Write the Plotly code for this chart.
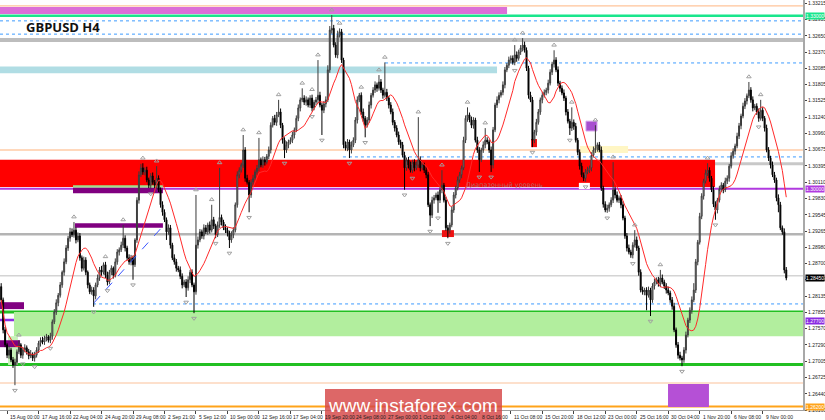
import plotly.graph_objects as go
import pandas as pd

# ---------------- data (prices in pips: price * 10000) ----------------
first_open_pips = 12830
close_pips = [
    12807,12755,12729,12711,12720,12703,12694,12699,12717,12729,12711,12720,12724,12717,12710,12713,12706,12711,12720,12732,
    12737,12734,12741,12743,12737,12744,12769,12786,12802,12815,12833,12855,12873,12897,12914,12925,12920,12928,12911,12918,
    12880,12862,12876,12855,12833,12821,12824,12814,12833,12845,12859,12855,12868,12850,12838,12855,12862,12850,12873,12890,
    12894,12902,12914,12897,12880,12873,12880,12868,12911,12980,13024,13036,13029,13032,13015,13006,13022,13011,13006,13018,
    12998,12972,12959,12946,12925,12932,12902,12880,12873,12862,12859,12848,12833,12838,12828,12842,12855,12833,12821,12902,
    12911,12925,12918,12932,12925,12937,12928,12946,12935,12920,12937,12950,12942,12932,12928,12923,12911,12920,12928,12972,
    13024,13032,13041,13067,13018,13011,12989,13011,13018,13029,13036,13050,13041,13050,13046,13056,13067,13110,13122,13115,
    13128,13133,13110,13084,13067,13076,13081,13084,13093,13102,13122,13140,13154,13157,13150,13154,13145,13157,13140,13150,
    13154,13162,13145,13136,13147,13154,13206,13275,13278,13249,13232,13266,13272,13223,13076,13070,13081,13067,13076,13084,
    13119,13154,13162,13133,13122,13110,13119,13145,13162,13171,13180,13174,13185,13171,13162,13167,13157,13145,13133,13115,
    13105,13093,13081,13076,13058,13036,13050,13041,13032,13046,13036,13041,13050,13036,13041,13032,13024,12972,12954,12980,
    12984,12989,12980,12998,13006,12980,12932,12928,12937,12963,12989,13001,13015,13024,13036,13084,13122,13128,13119,13110,
    13119,13084,13067,13050,13067,13076,13084,13081,13067,13041,13102,13145,13154,13162,13167,13180,13206,13214,13223,13226,
    13219,13232,13226,13237,13244,13249,13240,13209,13162,13154,13084,13098,13115,13133,13154,13162,13167,13171,13183,13202,
    13216,13223,13206,13183,13174,13166,13157,13133,13117,13105,13115,13108,13084,13063,13039,13024,13018,13029,13032,13036,
    13058,13067,13070,13076,13067,13001,12973,12963,12966,12972,12980,12998,12989,12980,12984,12972,12949,12918,12897,12890,
    12885,12902,12911,12897,12855,12824,12821,12824,12815,12824,12807,12831,12838,12842,12835,12845,12838,12831,12824,12819,
    12807,12796,12755,12729,12711,12706,12703,12720,12746,12772,12789,12807,12824,12873,12907,12952,12987,13013,13027,13032,
    13018,12998,12973,12963,12980,12999,13006,12998,13013,13018,13039,13057,13065,13074,13091,13109,13126,13143,13152,13161,
    13171,13154,13140,13143,13133,13122,13136,13122,13105,13067,13053,13041,13024,13015,12984,12972,12932,12925,12859,12845,
]
upper_wick = [
    6,4,5,3,7,4,5,6,4,8,3,5,6,4,5,7,3,6,5,4,
    5,6,4,5,3,6,4,5,6,4,5,3,6,5,4,7,6,14,5,6,
    5,4,6,5,3,4,6,5,4,6,5,7,4,5,6,4,5,3,6,5,
    4,6,23,5,4,6,5,4,3,5,6,7,8,5,6,4,5,6,4,21,
    5,4,6,5,4,6,5,4,6,5,4,6,5,4,5,6,4,5,4,87,
    6,5,4,6,5,4,6,26,5,4,6,86,5,4,6,5,4,6,5,4,
    6,5,4,26,5,6,4,5,6,4,5,38,4,6,5,4,6,5,4,6,
    5,21,6,4,5,6,4,5,6,4,5,6,4,17,5,6,4,5,6,4,
    5,61,6,4,5,6,8,7,23,6,5,8,6,5,4,6,5,4,6,5,
    5,6,4,5,6,4,5,6,4,5,6,4,12,5,4,52,6,4,5,6,
    4,5,6,4,5,6,4,5,6,4,5,6,74,6,5,4,6,5,4,6,
    5,4,6,5,26,4,6,5,4,6,5,4,6,5,4,6,5,13,4,6,
    5,4,6,5,4,6,21,5,4,6,5,4,6,5,4,6,5,4,6,5,
    5,17,6,4,5,12,6,5,4,6,5,4,6,5,4,6,5,4,6,5,
    4,17,5,6,4,5,6,4,5,4,26,5,6,4,5,6,4,5,6,4,
    5,6,40,4,5,6,4,5,6,4,5,48,5,6,4,5,6,4,5,6,
    4,5,17,6,4,5,6,4,5,6,4,5,6,4,5,14,6,4,5,6,
    4,5,6,4,5,6,4,5,6,4,5,6,12,5,4,6,5,4,6,12,
    5,4,6,5,4,6,5,4,6,5,4,6,5,4,6,5,4,6,5,4,
    14,5,6,4,5,6,18,5,4,6,5,4,6,5,4,6,5,4,6,5,
]
lower_wick = [
    5,6,4,5,6,4,5,35,6,4,5,6,4,5,6,4,5,6,4,5,
    6,4,5,6,4,5,6,4,5,6,4,5,6,4,5,6,4,5,6,4,
    5,6,4,5,6,4,5,19,6,4,5,6,4,5,6,4,5,6,4,5,
    6,4,5,6,4,5,6,26,4,5,6,4,5,6,4,5,6,4,5,6,
    4,5,6,4,14,5,6,4,5,6,4,5,6,4,16,5,6,4,37,5,
    6,4,5,6,4,5,6,4,5,6,4,5,6,4,5,6,14,5,6,4,
    5,6,4,5,6,4,30,5,6,4,5,6,4,5,6,4,5,6,4,5,
    6,4,5,6,14,5,6,4,5,6,4,5,6,4,5,6,4,5,6,4,
    5,6,4,43,5,6,4,5,6,4,5,6,4,5,6,4,5,14,6,4,
    5,6,4,5,6,21,4,5,6,4,5,6,4,5,6,4,5,6,4,5,
    6,4,5,6,4,38,5,6,4,5,6,4,5,6,4,5,6,4,19,5,
    6,4,22,5,6,4,5,14,6,4,5,6,4,5,6,4,5,6,4,5,
    6,4,5,21,4,5,6,4,5,12,6,4,5,6,4,5,6,4,5,6,
    4,5,6,4,5,6,4,5,6,4,12,5,6,4,5,6,4,5,6,4,
    5,6,4,5,6,4,5,6,4,12,5,6,4,5,6,4,5,6,4,5,
    6,4,5,6,4,5,6,4,5,6,4,5,6,4,5,6,4,5,6,4,
    5,6,4,5,6,4,5,6,26,4,28,5,6,4,5,6,4,5,6,4,
    5,6,4,5,6,4,11,5,6,4,5,6,4,5,6,4,5,6,4,5,
    6,4,5,17,6,4,5,6,4,5,6,4,5,6,4,5,6,4,5,6,
    4,5,6,4,5,6,4,5,6,4,5,6,4,5,6,13,4,5,6,4,
]

x_tick_text = ["15 Aug 00:00", "17 Aug 16:00", "22 Aug 04:00", "24 Aug 20:00", "29 Aug 08:00",
               "2 Sep 21:00", "5 Sep 12:00", "10 Sep 00:00", "12 Sep 16:00", "17 Sep 04:00",
               "19 Sep 20:00", "24 Sep 08:00", "27 Sep 00:00", "1 Oct 12:00", "4 Oct 04:00",
               "8 Oct 16:00", "11 Oct 08:00", "15 Oct 20:00", "18 Oct 12:00", "23 Oct 00:00",
               "25 Oct 16:00", "30 Oct 04:00", "1 Nov 20:00", "6 Nov 08:00", "9 Nov 00:00"]
y_tick_text = ["1.33215", "1.32935", "1.32650", "1.32370", "1.32085", "1.31805", "1.31525",
               "1.31240", "1.30960", "1.30675", "1.30395", "1.30110", "1.29830", "1.29545",
               "1.29265", "1.28980", "1.28700", "1.28420", "1.28135", "1.27855", "1.27570",
               "1.27290", "1.27005", "1.26725", "1.26440", "1.26160"]

# key levels (prices)
level_prices = [1.3317, 1.3300, 1.3291, 1.3268, 1.3258, 1.3067, 1.3043, 1.3000, 1.2921, 1.2849,
                1.2786, 1.2772, 1.2695, 1.2663, 1.2622]
partial_dotted_levels = [1.3218, 1.3055, 1.2800]
zone_prices = {  # (low, high)
    "orchid": (1.3303, 1.3315), "lightblue": (1.3200, 1.3212), "red": (1.3003, 1.3050),
    "yellow": (1.3062, 1.3074), "green": (1.2744, 1.2786), "green_small": (1.2694, 1.2744),
    "violet_box": (1.2621, 1.2661), "violet_small": (1.3100, 1.3117), "red_small": (1.3072, 1.3086),
    "red_mark": (1.2916, 1.2928), "purple1": (1.2992, 1.3002), "green_strip": (1.3002, 1.3006),
    "purple2": (1.2932, 1.2940), "purple3": (1.2791, 1.2803), "purple4": (1.2725, 1.2737),
    "white_box": (1.2999, 1.3010),
}
trend_prices = [1.2802, 1.2933]
range_label = "Диапазонный уровень"

# ---------------- build ----------------
n = len(close_pips)
opens_p = [first_open_pips] + close_pips[:-1]
high_p = [max(o, c) + u for o, c, u in zip(opens_p, close_pips, upper_wick)]
low_p = [min(o, c) - l for o, c, l in zip(opens_p, close_pips, lower_wick)]
close = [v / 10000 for v in close_pips]
opens = [v / 10000 for v in opens_p]
high = [v / 10000 for v in high_p]
low = [v / 10000 for v in low_p]
xs = list(range(n))
ma = pd.Series(close).rolling(12, min_periods=1).mean().tolist()

# Bill Williams fractals (indicator computed from the highs / lows)
fr_up_x, fr_up_y, fr_dn_x, fr_dn_y = [], [], [], []
for i in range(2, n - 2):
    if high[i] > max(high[i - 2], high[i - 1], high[i + 1], high[i + 2]):
        fr_up_x.append(i)
        fr_up_y.append(high[i] + 0.0009)
    if low[i] < min(low[i - 2], low[i - 1], low[i + 1], low[i + 2]):
        fr_dn_x.append(i)
        fr_dn_y.append(low[i] - 0.0009)

fig = go.Figure()
fig.add_trace(go.Candlestick(
    x=xs, open=opens, high=high, low=low, close=close,
    increasing=dict(line=dict(color="#3a3a3a", width=1), fillcolor="#c8c8c8"),
    decreasing=dict(line=dict(color="#000000", width=1), fillcolor="#000000"),
    whiskerwidth=0, hoverinfo="skip", showlegend=False))
fig.add_trace(go.Scatter(x=xs, y=ma, mode="lines", line=dict(color="#ff2a2a", width=1),
                         hoverinfo="skip", showlegend=False))
fig.add_trace(go.Scatter(x=[47.2, 81.7], y=trend_prices, mode="lines",
                         line=dict(color="#3a55ff", width=1, dash="dash"),
                         hoverinfo="skip", showlegend=False))
fig.add_trace(go.Scatter(x=fr_up_x, y=fr_up_y, mode="markers",
                         marker=dict(symbol="triangle-up-open", size=4, color="#a0a0a0",
                                     line=dict(width=1, color="#a0a0a0")),
                         hoverinfo="skip", showlegend=False))
fig.add_trace(go.Scatter(x=fr_dn_x, y=fr_dn_y, mode="markers",
                         marker=dict(symbol="triangle-down-open", size=4, color="#a0a0a0",
                                     line=dict(width=1, color="#a0a0a0")),
                         hoverinfo="skip", showlegend=False))

XL, XR = -0.6, 407.5
shapes = []

def zone(key, x0, x1, color, line=None):
    lo, hi = zone_prices[key]
    shapes.append(dict(type="rect", xref="x", yref="y", x0=x0, x1=x1, y0=lo, y1=hi,
                       fillcolor=color, line=line or dict(width=0), layer="below"))

zone("orchid", XL, 257.1, "#dc6fd8")
zone("lightblue", XL, 252.0, "#b0dde4")
zone("red", XL, 362.8, "#ff0000")
zone("yellow", 294.2, 318.6, "#fff6c4")
zone("green", 6.5, XR, "#b2ee9e")
zone("green_small", 3.5, 8.5, "#c8f2b8")
zone("violet_box", 338.9, 359.7, "#b550d6")
zone("violet_small", 297.2, 302.8, "#a84fd0", dict(color="#d6a0ec", width=1))
zone("red_small", 269.3, 272.3, "#ee1111")
zone("red_mark", 224.0, 230.1, "#ee1111")
zone("purple1", 36.5, 82.2, "#800080")
zone("green_strip", 36.5, 82.2, "#9fe08a")
zone("purple2", 37.5, 82.2, "#800080")
zone("purple3", XL, 11.6, "#800080")
zone("purple4", XL, 9.6, "#800080")
zone("white_box", 293.6, 299.2, "#ffffff")

level_styles = [("#ffc49a", 1.2, "solid"), ("#19e68c", 2.5, "solid"), ("#3d9bff", 1, "dot"),
                ("#3d9bff", 1, "dot"), ("#bdbdbd", 4, "solid"), ("#ffb27a", 1.2, "solid"),
                ("#c8c8c8", 3, "solid"), ("#b03adf", 2, "solid"), ("#b4b4b4", 2.5, "solid"),
                ("#d4d4d4", 1.5, "solid"), ("#22c022", 3, "solid"), ("#8a2be2", 2.5, "solid"),
                ("#22c022", 3, "solid"), ("#fde0cc", 2, "solid"), ("#ffa31a", 2, "solid")]
for p, (c, w, d) in zip(level_prices, level_styles):
    shapes.append(dict(type="line", xref="paper", yref="y", x0=0, x1=1, y0=p, y1=p,
                       line=dict(color=c, width=w, dash=d), layer="below"))
for p, x0 in zip(partial_dotted_levels, [195.1, 173.7, 46.7]):
    shapes.append(dict(type="line", xref="x", yref="y", x0=x0, x1=XR, y0=p, y1=p,
                       line=dict(color="#3d9bff", width=1, dash="dot"), layer="below"))
# watermark box
shapes.append(dict(type="rect", xref="paper", yref="paper", x0=325 / 803, x1=502 / 803,
                   y0=-10 / 410, y1=21 / 410, fillcolor="rgba(214,70,70,0.82)",
                   line=dict(width=0), layer="above"))

annotations = []
annotations.append(dict(text="<b>GBPUSD H4</b>", xref="paper", yref="paper", x=24 / 803, y=1 - 27 / 410,
                        xanchor="left", yanchor="middle", showarrow=False,
                        font=dict(family="Open Sans", size=13, color="#111111")))
annotations.append(dict(text=range_label, xref="x", yref="y", x=256.0, y=1.3007,
                        xanchor="center", yanchor="middle", showarrow=False,
                        font=dict(family="DejaVu Sans", size=6.5, color="#b06a6a")))
for i, t in enumerate(x_tick_text):
    annotations.append(dict(text=t, xref="x", yref="paper", x=3 + 16 * i, y=0,
                            xanchor="left", yanchor="top", xshift=1, yshift=-2, showarrow=False,
                            font=dict(family="Liberation Sans", size=5, color="#222222")))
current_label = f"{close[-1]:.5f}"
for txt, p, bg in [("1.33000", 1.3300, "#19e68c"), ("1.30000", 1.3000, "#b03adf"),
                   (current_label, close[-1], "#000000"), ("1.27700", 1.2770, "#8a2be2"),
                   ("1.26200", 1.2622, "#ffa31a")]:
    annotations.append(dict(text=txt, xref="paper", yref="y", x=1, y=p, xanchor="left",
                            yanchor="middle", xshift=2, showarrow=False, bgcolor=bg, borderpad=0,
                            font=dict(family="Liberation Sans", size=5, color="#ffffff")))
annotations.append(dict(text="www.instaforex.com", xref="paper", yref="paper", x=413.5 / 803,
                        y=5 / 410, xanchor="center", yanchor="middle", showarrow=False,
                        font=dict(family="Liberation Sans", size=19, color="#ffffff")))

fig.update_layout(
    width=825, height=420, margin=dict(l=0, r=22, t=0, b=10, autoexpand=False),
    paper_bgcolor="#ffffff", plot_bgcolor="#ffffff",
    shapes=shapes, annotations=annotations, showlegend=False, hovermode=False,
    xaxis=dict(range=[XL, XR], rangeslider=dict(visible=False), showgrid=False, zeroline=False,
               tickvals=[3 + 16 * i for i in range(len(x_tick_text))], showticklabels=False,
               ticks="outside", ticklen=3, tickcolor="#444444", showline=True,
               linecolor="#a0a0a0", linewidth=1, automargin=False),
    yaxis=dict(range=[1.2616, 1.33272], side="right", showgrid=False, zeroline=False,
               tickvals=[float(t) for t in y_tick_text], ticktext=y_tick_text,
               ticks="outside", ticklen=2, tickcolor="#444444",
               tickfont=dict(family="Liberation Sans", size=5, color="#222222"),
               showline=True, linecolor="#a8a8a8", linewidth=2, automargin=False),
)

fig.write_html("out.html", config={"displayModeBar": False},
               post_script="document.body.style.margin='0';document.body.style.overflow='hidden';")
